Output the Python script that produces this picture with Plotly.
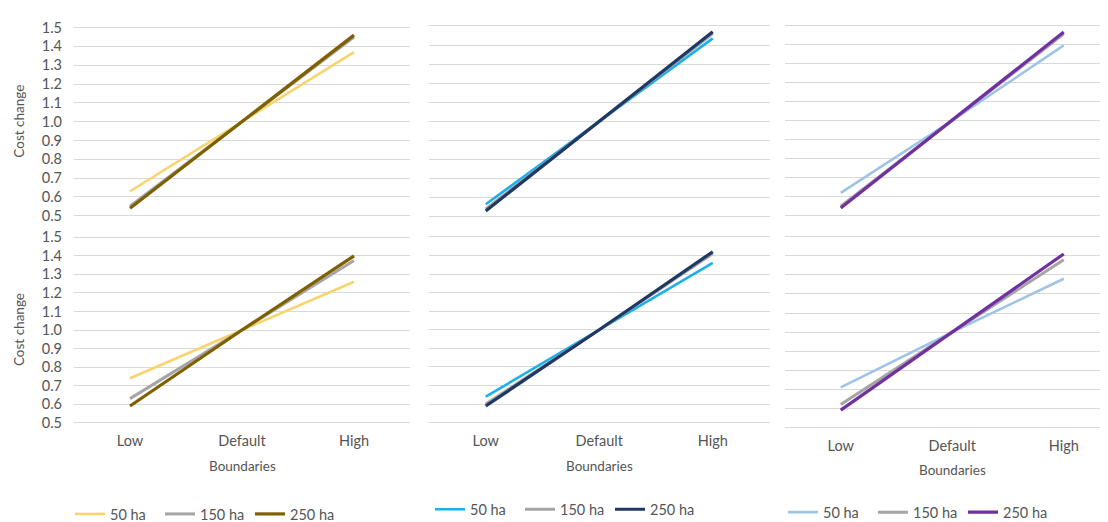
import plotly.graph_objects as go

W, H = 1108, 522
FONT = "Lato"
TXT = "#555555"

categories = ["Low", "Default", "High"]
series_names = ["50 ha", "150 ha", "250 ha"]
y_ticks = [0.5, 0.6, 0.7, 0.8, 0.9, 1.0, 1.1, 1.2, 1.3, 1.4, 1.5]

# column 1 (yellow palette)
c1_top_50 = [0.63, 1.00, 1.37]
c1_top_150 = [0.55, 1.00, 1.45]
c1_top_250 = [0.54, 1.00, 1.46]
c1_bot_50 = [0.74, 1.00, 1.26]
c1_bot_150 = [0.63, 1.00, 1.375]
c1_bot_250 = [0.59, 1.00, 1.40]
# column 2 (blue palette)
c2_top_50 = [0.565, 1.00, 1.435]
c2_top_150 = [0.54, 1.00, 1.46]
c2_top_250 = [0.53, 1.00, 1.47]
c2_bot_50 = [0.64, 1.00, 1.36]
c2_bot_150 = [0.60, 1.00, 1.41]
c2_bot_250 = [0.59, 1.00, 1.42]
# column 3 (purple palette)
c3_top_50 = [0.62, 1.00, 1.395]
c3_top_150 = [0.55, 1.00, 1.455]
c3_top_250 = [0.54, 1.00, 1.465]
c3_bot_50 = [0.71, 1.00, 1.28]
c3_bot_150 = [0.62, 1.00, 1.38]
c3_bot_250 = [0.59, 1.00, 1.41]

colors_c1 = ["#F7D46E", "#A5A5A5", "#7F6000"]
colors_c2 = ["#1CB0EA", "#A5A5A5", "#1F3864"]
colors_c3 = ["#9DC3E6", "#A5A5A5", "#7030A0"]
widths = [2.6, 3.0, 3.2]

# geometry in pixels
cols = [
    dict(left=66, step=112.0, right=402),
    dict(left=421, step=113.5, right=762),
    dict(left=777, step=111.5, right=1108),
]
rows = [
    [(15.0, 208.3), (230.5, 421.0)],
    [(13.3, 209.3), (230.0, 421.0)],
    [(12.7, 208.3), (230.0, 425.7)],
]
title_y = [465, 465, 470]
legend_y = [515, 510, 513]
legend_x = [62, 422, 775]

YLO, YHI = 0.48, 1.52

data = [
    [[c1_top_50, c1_top_150, c1_top_250], [c1_bot_50, c1_bot_150, c1_bot_250]],
    [[c2_top_50, c2_top_150, c2_top_250], [c2_bot_50, c2_bot_150, c2_bot_250]],
    [[c3_top_50, c3_top_150, c3_top_250], [c3_bot_50, c3_bot_150, c3_bot_250]],
]
palettes = [colors_c1, colors_c2, colors_c3]

fig = go.Figure()
layout = dict(
    width=W, height=H, margin=dict(l=0, r=0, t=0, b=0),
    paper_bgcolor="white", plot_bgcolor="white",
    font=dict(family=FONT, color=TXT, size=13),
    annotations=[],
)

ax = 0
for ci in range(3):
    col = cols[ci]
    x0 = col["left"]
    x1 = min(col["right"], W)
    xr = [-0.5, -0.5 + (x1 - x0) / col["step"]]
    legname = "legend" if ci == 0 else f"legend{ci + 1}"
    for ri in range(2):
        ax += 1
        p15, p05 = rows[ci][ri]
        per = p05 - p15
        top = p15 - (YHI - 1.5) * per
        bot = p05 + (0.5 - YLO) * per
        xa = "x" if ax == 1 else f"x{ax}"
        ya = "y" if ax == 1 else f"y{ax}"
        for si in range(3):
            fig.add_trace(go.Scatter(
                x=categories, y=data[ci][ri][si], mode="lines",
                name=series_names[si],
                line=dict(color=palettes[ci][si], width=widths[si]),
                xaxis=xa, yaxis=ya,
                showlegend=(ri == 1), legend=legname,
                hoverinfo="skip",
            ))
        xkey = "xaxis" if ax == 1 else f"xaxis{ax}"
        ykey = "yaxis" if ax == 1 else f"yaxis{ax}"
        layout[xkey] = dict(
            domain=[x0 / W, x1 / W], range=xr, type="category",
            categoryorder="array", categoryarray=categories,
            anchor=ya, showgrid=False, zeroline=False, showline=False,
            showticklabels=(ri == 1), ticks="",
            tickfont=dict(family=FONT, size=14.5, color=TXT),
            ticklabelstandoff=4, fixedrange=True,
        )
        layout[ykey] = dict(
            domain=[1 - bot / H, 1 - top / H], range=[YLO, YHI],
            anchor=xa, showgrid=True, gridcolor="#D9D9D9", gridwidth=1,
            zeroline=False, showline=False, tickvals=y_ticks,
            tickformat=".1f", showticklabels=(ci == 0), ticks="",
            tickfont=dict(family=FONT, size=14.5, color=TXT),
            ticklabelstandoff=11, fixedrange=True,
        )
        if ci == 0:
            layout["annotations"].append(dict(
                text="Cost change", textangle=-90, xref="paper", yref="paper",
                x=11 / W, y=1 - ((p15 + p05) / 2) / H, showarrow=False,
                xanchor="center", yanchor="middle",
                font=dict(family=FONT, size=13.5, color=TXT),
            ))
    layout["annotations"].append(dict(
        text="Boundaries", xref="paper", yref="paper",
        x=(x0 + 1.5 * col["step"]) / W, y=1 - title_y[ci] / H,
        showarrow=False, xanchor="center", yanchor="middle",
        font=dict(family=FONT, size=13.5, color=TXT),
    ))
    layout[legname] = dict(
        orientation="h", x=legend_x[ci] / W, y=1 - legend_y[ci] / H,
        xanchor="left", yanchor="middle", bgcolor="rgba(0,0,0,0)",
        font=dict(family=FONT, size=14.5, color=TXT),
        entrywidth=45, entrywidthmode="pixels", itemwidth=30,
        traceorder="normal",
    )

fig.update_layout(**layout)
fig.write_html("out.html")
